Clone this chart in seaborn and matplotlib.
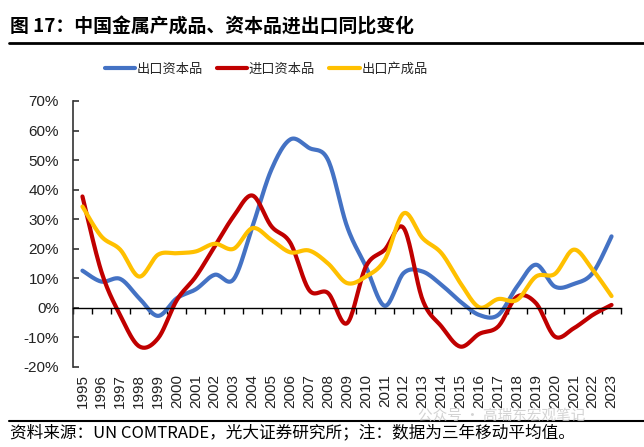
import numpy as np
import pandas as pd
import matplotlib
matplotlib.use("Agg")
import matplotlib.pyplot as plt
import seaborn as sns
from matplotlib.lines import Line2D

years = list(range(1995, 2024))
export_capital = [12.6, 8.9, 9.8, 3.3, -2.7, 3.3, 6.3, 11.2, 9.7, 27.6, 46.8, 57.0, 54.1, 50.0,
                  27.6, 14.0, 0.7, 11.8, 12.3, 7.8, 2.1, -2.4, -2.4, 7.2, 14.6, 7.2, 8.1, 11.8, 24.2]
import_capital = [37.7, 12.3, -2.5, -13.0, -10.3, 2.7, 10.6, 20.8, 31.0, 38.0, 27.6, 22.0, 6.0, 5.0,
                  -5.2, 14.0, 19.7, 27.0, 2.7, -6.3, -13.1, -8.8, -6.3, 3.8, 1.6, -9.7, -6.9, -2.4, 1.0]
export_finished = [34.3, 24.2, 19.7, 10.6, 18.0, 18.5, 19.1, 21.7, 20.0, 27.0, 23.0, 18.8, 19.4, 15.0,
                   8.4, 10.6, 16.3, 32.0, 23.6, 18.5, 8.4, 0.2, 3.0, 2.7, 10.6, 11.5, 19.7, 12.9, 4.0]
series_names = ["出口资本品", "进口资本品", "出口产成品"]
colors = ["#4472C4", "#C00000", "#FFC000"]
yticks = [-20, -10, 0, 10, 20, 30, 40, 50, 60, 70]

title = "图 17：中国金属产成品、资本品进出口同比变化"
source = "资料来源：UN COMTRADE，光大证券研究所；注：数据为三年移动平均值。"
watermark = "公众号 · 高瑞东宏观笔记"


def smooth(xs, ys, n=20):
    # Catmull-Rom smoothing (like a spreadsheet's smoothed line) for rendering
    xs = np.asarray(xs, float)
    ys = np.asarray(ys, float)
    px = np.concatenate([[xs[0]], xs, [xs[-1]]])
    py = np.concatenate([[ys[0]], ys, [ys[-1]]])
    outx, outy = [], []
    t = np.linspace(0, 1, n, endpoint=False)
    for i in range(1, len(px) - 2):
        p0x, p1x, p2x, p3x = px[i - 1], px[i], px[i + 1], px[i + 2]
        p0y, p1y, p2y, p3y = py[i - 1], py[i], py[i + 1], py[i + 2]
        c1x, c1y = p1x + (p2x - p0x) / 6, p1y + (p2y - p0y) / 6
        c2x, c2y = p2x - (p3x - p1x) / 6, p2y - (p3y - p1y) / 6
        bx = (1 - t) ** 3 * p1x + 3 * (1 - t) ** 2 * t * c1x + 3 * (1 - t) * t ** 2 * c2x + t ** 3 * p2x
        by = (1 - t) ** 3 * p1y + 3 * (1 - t) ** 2 * t * c1y + 3 * (1 - t) * t ** 2 * c2y + t ** 3 * p2y
        outx.extend(bx)
        outy.extend(by)
    outx.append(xs[-1])
    outy.append(ys[-1])
    return np.array(outx), np.array(outy)


sns.set_theme(style="white")
plt.rcParams["font.family"] = ["Noto Sans CJK SC", "DejaVu Sans"]

fig = plt.figure(figsize=(6.44, 4.47), dpi=100)
ax = fig.add_axes([73 / 644, 1 - 367 / 447, (621 - 73) / 644, (367 - 101) / 447])

xpos = np.arange(len(years))
frames = []
for name, vals in zip(series_names, [export_capital, import_capital, export_finished]):
    sx, sy = smooth(xpos, vals)
    frames.append(pd.DataFrame({"x": sx, "y": sy, "series": name}))
df = pd.concat(frames, ignore_index=True)

sns.lineplot(data=df, x="x", y="y", hue="series", hue_order=series_names,
             palette=colors, sort=False, estimator=None, units="series",
             lw=3.0, ax=ax, legend=False)

ax.set_xlim(-0.5, len(years) - 0.5)
ax.set_ylim(-20, 70)
ax.set_xlabel("")
ax.set_ylabel("")

for s in ["top", "right"]:
    ax.spines[s].set_visible(False)
ax.spines["left"].set_color("#333333")
ax.spines["left"].set_linewidth(1.2)
ax.spines["bottom"].set_position(("data", 0))
ax.spines["bottom"].set_color("black")
ax.spines["bottom"].set_linewidth(1.0)

ax.set_yticks(yticks)
ax.set_yticklabels([f"{v}%" for v in yticks], family=["Liberation Sans"], fontsize=11, color="#222222")
ax.tick_params(axis="y", direction="in", length=4, width=1.2, color="#333333", left=True, pad=10)

ax.set_xticks(np.arange(-0.5, len(years), 1.0))
ax.tick_params(axis="x", direction="out", length=4, width=1.0, color="black", bottom=True, labelbottom=False)

for i, yr in enumerate(years):
    ax.text(i, -0.028, str(yr), transform=ax.get_xaxis_transform(), rotation=90,
            ha="center", va="top", fontsize=11, family=["Liberation Sans"], color="#222222")

handles = [Line2D([0], [0], color=c, lw=3.0) for c in colors]
fig.legend(handles, series_names, loc="center", bbox_to_anchor=(266 / 644, 1 - 69 / 447),
           ncol=3, frameon=False, fontsize=9.5, handlelength=2.3, handletextpad=0.1,
           columnspacing=1.1)

fig.text(10 / 644, 1 - 27 / 447, title, fontsize=13.6, fontweight="bold", ha="left", va="center",
         color="black")
fig.add_artist(Line2D([9 / 644, 1.0], [1 - 43 / 447, 1 - 43 / 447], color="black", lw=2.0))
fig.add_artist(Line2D([9 / 644, 1.0], [1 - 421 / 447, 1 - 421 / 447], color="black", lw=1.5))
fig.text(10 / 644, 1 - 433 / 447, source, fontsize=12, ha="left", va="center", color="black")
fig.text(418 / 644, 1 - 417 / 447, watermark, fontsize=10.5, ha="left", va="center",
         color="#c8c8c8", alpha=0.8)

fig.savefig("out.png", dpi=100)
